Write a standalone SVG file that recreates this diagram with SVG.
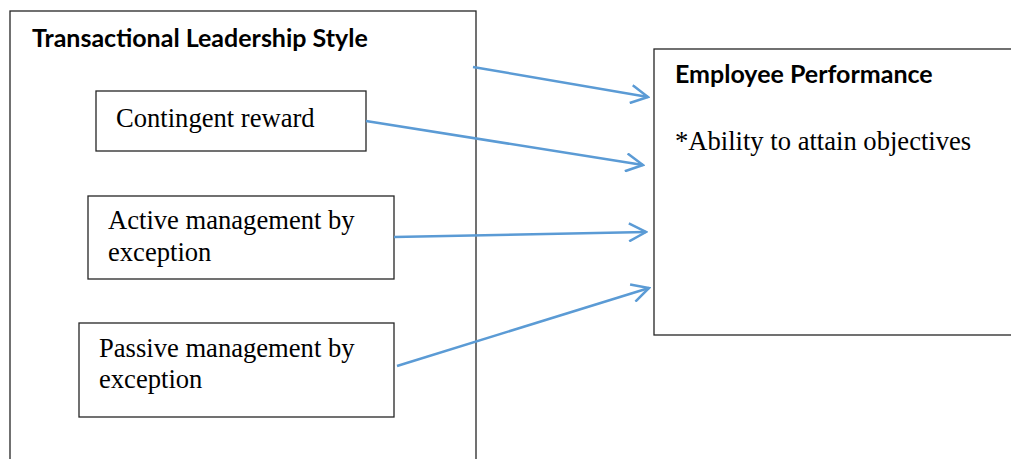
<svg xmlns="http://www.w3.org/2000/svg" width="1011" height="459" viewBox="0 0 1011 459">
<style>
.box{fill:#fff;stroke:#262626;stroke-width:1.3}
.h{font-family:Lato,"Open Sans",sans-serif;font-weight:bold;font-size:25px;fill:#000}
.t{font-family:"Liberation Serif","Times New Roman",serif;font-size:26.6px;fill:#000}
.c{fill:none;stroke:#5B9BD5;stroke-width:2.5}
</style>
<defs>
<marker id="ah" viewBox="0 0 20 20" refX="18" refY="10" markerWidth="20" markerHeight="20" markerUnits="userSpaceOnUse" orient="auto">
<path d="M1,1 L18,10 L1,19" fill="none" stroke="#5B9BD5" stroke-width="2.5"/>
</marker>
</defs>
<rect width="1011" height="459" fill="#fff"/>
<g id="transactional">
<rect class="box" x="10" y="11" width="466" height="460"/>
<text class="h" x="32" y="47">Transactional Leadership Style</text>
</g>
<g id="contingent">
<rect class="box" x="96" y="91" width="270" height="60"/>
<text class="t" x="116" y="127">Contingent reward</text>
</g>
<g id="active">
<rect class="box" x="88" y="196" width="306" height="83"/>
<text class="t" x="108" y="229">Active management by</text>
<text class="t" x="108" y="261">exception</text>
</g>
<g id="passive">
<rect class="box" x="79" y="323" width="315" height="94"/>
<text class="t" x="99" y="357">Passive management by</text>
<text class="t" x="99" y="388">exception</text>
</g>
<g id="performance">
<rect class="box" x="654" y="49" width="370" height="286"/>
<text class="h" x="675" y="83">Employee Performance</text>
<text class="t" x="675" y="150">*Ability to attain objectives</text>
</g>
<g id="connectors">
<line class="c" x1="473" y1="67" x2="648" y2="97" marker-end="url(#ah)"/>
<line class="c" x1="366" y1="121" x2="643" y2="165" marker-end="url(#ah)"/>
<line class="c" x1="394" y1="237" x2="646" y2="232" marker-end="url(#ah)"/>
<line class="c" x1="397" y1="366" x2="649" y2="288" marker-end="url(#ah)"/>
</g>
</svg>
